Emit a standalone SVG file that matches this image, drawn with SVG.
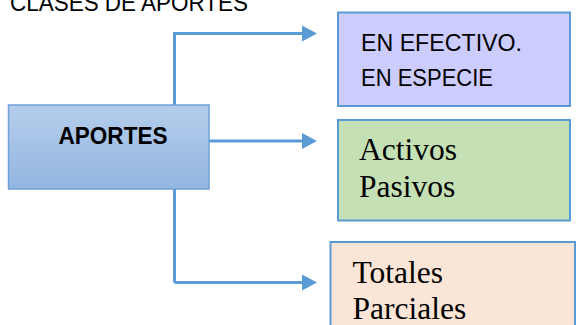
<svg xmlns="http://www.w3.org/2000/svg" width="576" height="325" viewBox="0 0 576 325">
<style>
.sans{font-family:"Liberation Sans",Arial,sans-serif;font-size:24px;fill:#000}
.serif{font-family:"Liberation Serif","Times New Roman",serif;font-size:31.5px;fill:#000}
.box{stroke:#5b9bd5;stroke-width:2}
.conn{fill:none;stroke:#5b9bd5;stroke-width:3}
.head{fill:#5b9bd5}
</style>
<defs>
<linearGradient id="g" x1="0" y1="0" x2="0" y2="1">
<stop offset="0" stop-color="#b5cdeb"/>
<stop offset="1" stop-color="#93b6e1"/>
</linearGradient>
</defs>
<rect width="576" height="325" fill="#fff"/>
<text class="sans" x="10" y="11" textLength="238" lengthAdjust="spacingAndGlyphs">CLASES DE APORTES</text>
<g id="connectors">
<path class="conn" d="M174.5,282.5 V33.5 H304"/>
<polygon class="head" points="317,33.5 302,25.5 302,41.5"/>
<path class="conn" d="M209,141 H304"/>
<polygon class="head" points="317,141 302,133 302,149"/>
<path class="conn" d="M174.5,282.5 H304"/>
<polygon class="head" points="317,282.5 302,274.5 302,290.5"/>
</g>
<g id="aportes">
<rect x="8.5" y="105" width="200.5" height="84" fill="url(#g)" stroke="#6fa1d9" stroke-width="1.5"/>
<text class="sans" x="58.5" y="144" font-weight="bold" textLength="109" lengthAdjust="spacingAndGlyphs">APORTES</text>
</g>
<g id="efectivo">
<rect class="box" x="338" y="12.5" width="232" height="93.5" fill="#ccccff"/>
<text class="sans" x="361" y="51" textLength="161" lengthAdjust="spacingAndGlyphs">EN EFECTIVO.</text>
<text class="sans" x="361" y="85.5" textLength="132" lengthAdjust="spacingAndGlyphs">EN ESPECIE</text>
</g>
<g id="activos">
<rect class="box" x="338" y="120" width="232" height="100.5" fill="#c5e0b4"/>
<text class="serif" x="359" y="160">Activos</text>
<text class="serif" x="359" y="197">Pasivos</text>
</g>
<g id="totales">
<rect class="box" x="330.5" y="242" width="244.5" height="100" fill="#fbe5d6"/>
<text class="serif" x="352.5" y="282.5">Totales</text>
<text class="serif" x="352.5" y="318.5">Parciales</text>
</g>
</svg>
